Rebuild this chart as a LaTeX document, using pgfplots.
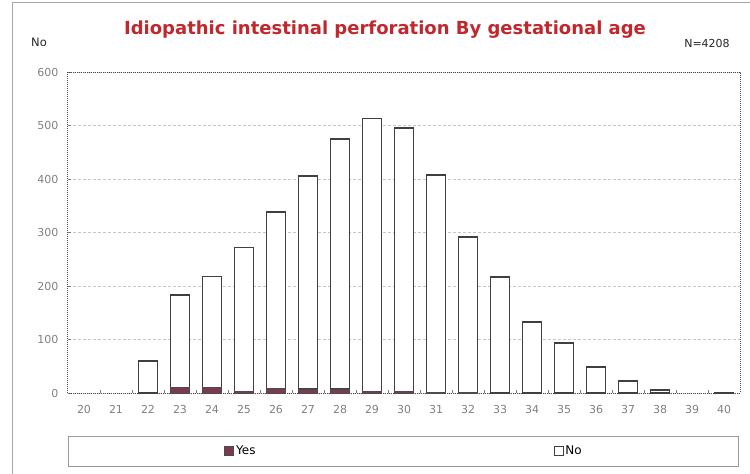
\documentclass[border=0pt]{standalone}
\usepackage{pgfplots}
\pgfplotsset{compat=1.18}
\usepackage{fontspec}
\setmainfont{DejaVu Sans}
\definecolor{yescol}{HTML}{7A3A52}
\definecolor{titlered}{HTML}{C0282D}
\definecolor{ticktext}{HTML}{808080}

% gestational age, perforation yes / no
\pgfplotstableread{
age yes no
22 0 60
23 10 173
24 10 208
25 3 269
26 8 330
27 7 398
28 7 468
29 3 510
30 3 492
31 1 407
32 1 290
33 0 217
34 0 133
35 0 94
36 0 48
37 0 23
38 0 5
40 0 1
}\iipdata

\begin{document}
\begin{tikzpicture}
\useasboundingbox (0pt,0pt) rectangle (750pt,474pt);
\draw[gray!70, line width=1pt] (12pt,0pt) -- (12pt,471pt) -- (750pt,471pt);

\begin{axis}[
  at={(68pt,81pt)}, anchor=south west,
  scale only axis, width=672pt, height=321pt,
  ybar stacked, bar width=19pt,
  xmin=19.5, xmax=40.5, ymin=0, ymax=600,
  xtick={20,...,40}, ytick={0,100,...,600},
  minor x tick num=1,
  major x tick style={draw=none},
  minor x tick style={gray, line width=0.6pt},
  major y tick style={gray, line width=0.6pt},
  tick align=inside, major tick length=3pt, minor tick length=3pt,
  tick pos=left,
  axis line style={black!70, densely dotted, line width=1pt},
  ymajorgrids, grid style={gray!45, densely dashed, line width=0.5pt},
  /pgf/number format/assume math mode=true,
  ticklabel style={font=\fontsize{11}{13}\selectfont, text=ticktext},
  xticklabel style={yshift=-9pt},
  yticklabel style={xshift=-6pt},
  legend columns=2,
  legend style={at={(0.5,-0.181)}, anchor=center, draw=none, fill=none,
    font=\fontsize{12}{14}\selectfont,
    /tikz/every even column/.append style={column sep=296pt}},
  legend image code/.code={\draw[#1, line width=0.8pt] (0pt,-4.5pt) rectangle (9pt,4.5pt);},
]
\addplot[fill=yescol, draw=black!70, line width=1pt] table[x=age, y=yes] {\iipdata};
\addplot[fill=white, draw=black!75, line width=1.7pt] table[x=age, y=no] {\iipdata};
\legend{Yes, No}
\end{axis}

\draw[gray!80, line width=0.8pt] (68pt,8pt) rectangle (738pt,38pt);
\node[text=titlered, font=\fontsize{18}{21}\selectfont\bfseries] at (385pt,444pt) {Idiopathic intestinal perforation By gestational age};
\node[font=\fontsize{11.5}{13}\selectfont, text=black!85] at (39pt,432pt) {No};
\node[font=\fontsize{11}{13}\selectfont, text=black!85] at (707pt,430pt) {N=4208};
\end{tikzpicture}
\end{document}
